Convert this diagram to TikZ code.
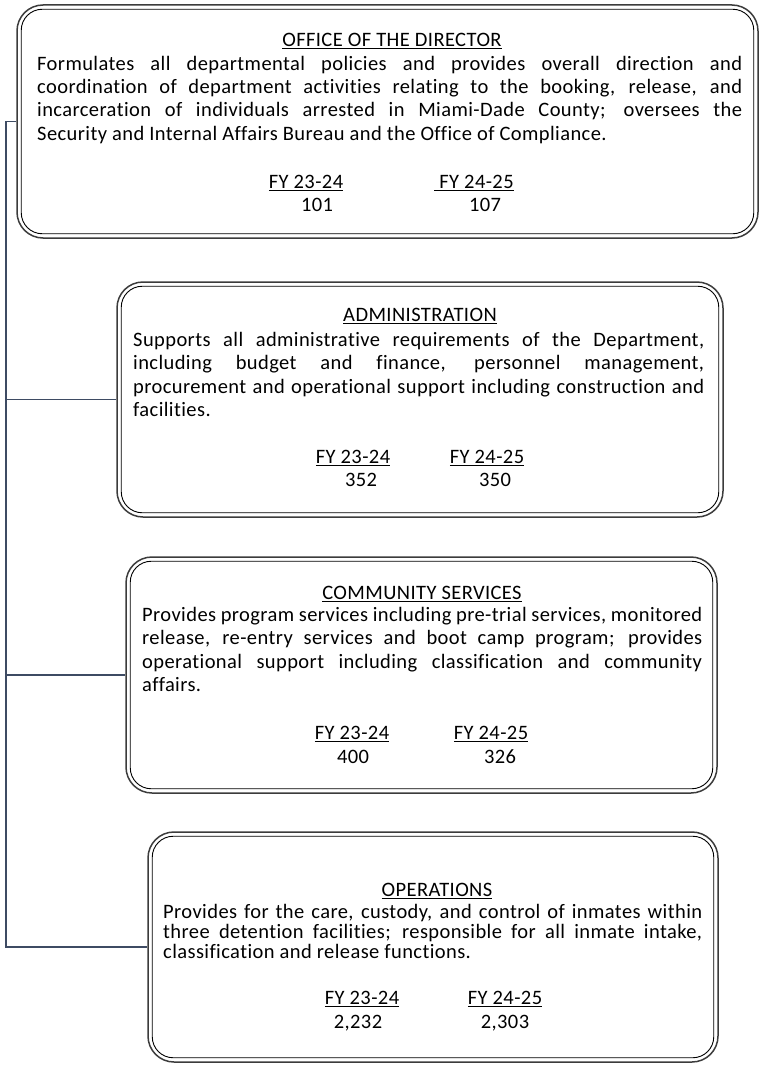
\documentclass[tikz,border=0pt]{standalone}
\usepackage{fontspec}
\setmainfont{Carlito}[LetterSpace=2, Ligatures={NoCommon,NoContextual}]
\usetikzlibrary{calc}
\definecolor{conncol}{RGB}{62,75,99}
\definecolor{outercol}{RGB}{60,60,60}
\tikzset{
  outerbox/.style={draw=outercol, line width=1.5pt, rounded corners=26pt, inner sep=0pt},
  innerbox/.style={draw=black, line width=0.9pt, rounded corners=21pt},
  conn/.style={draw=conncol, line width=1.1pt},
  txt/.style={anchor=base west, inner sep=0pt, font=\fontsize{20.5}{23}\selectfont},
  ttl/.style={anchor=base, inner sep=0pt, font=\fontsize{20.5}{23}\selectfont},
}
\newcommand{\jl}[2]{\makebox[#1pt][s]{#2}}
\begin{document}
\begin{tikzpicture}[x=1pt,y=-1pt]
\useasboundingbox[fill=white] (0,0) rectangle (759,1065);

% ---------- Office of the Director ----------
\node[outerbox, minimum width=741pt, minimum height=233pt] (dir) at (387.5,121.5) {};
\draw[innerbox] ([shift={(5,5)}]dir.north west) rectangle ([shift={(-5,-5)}]dir.south east);
\node[ttl] (dirT) at (392,47) {\underline{OFFICE OF THE DIRECTOR}};
\node[txt] (dir1) at (37,70.5) {\jl{705}{Formulates all departmental policies and provides overall direction and}};
\node[txt] (dir2) at (37,93) {\jl{705}{coordination of department activities relating to the booking, release, and}};
\node[txt] (dir3) at (37,116.5) {\jl{705}{incarceration of individuals arrested in Miami-Dade County; oversees the}};
\node[txt] (dir4) at (37,140) {Security and Internal Affairs Bureau and the Office of Compliance.};
\node[ttl] (dirF1) at (306,188.5) {\underline{FY 23-24}};
\node[ttl] (dirF2) at (474,188.5) {\underline{\ FY 24-25}};
\node[ttl] (dirN1) at (317,211.5) {101};
\node[ttl] (dirN2) at (485,211.5) {107};

% ---------- Administration ----------
\node[outerbox, minimum width=606pt, minimum height=235pt] (adm) at (420,399.5) {};
\draw[innerbox] ([shift={(5,5)}]adm.north west) rectangle ([shift={(-5,-5)}]adm.south east);
\node[ttl] (admT) at (420,321.5) {\underline{ADMINISTRATION}};
\node[txt] (adm1) at (133,346.5) {\jl{571}{Supports all administrative requirements of the Department,}};
\node[txt] (adm2) at (133,369.5) {\jl{571}{including budget and finance, personnel management,}};
\node[txt] (adm3) at (133,393.5) {\jl{571}{procurement and operational support including construction and}};
\node[txt] (adm4) at (133,416.5) {facilities.};
\node[ttl] (admF1) at (353,463.5) {\underline{FY 23-24}};
\node[ttl] (admF2) at (487,463.5) {\underline{FY 24-25}};
\node[ttl] (admN1) at (361,486.5) {352};
\node[ttl] (admN2) at (495,486.5) {350};

% ---------- Community Services ----------
\node[outerbox, minimum width=591pt, minimum height=236pt] (com) at (421.5,675) {};
\draw[innerbox] ([shift={(5,5)}]com.north west) rectangle ([shift={(-5,-5)}]com.south east);
\node[ttl] (comT) at (422,599.5) {\underline{COMMUNITY SERVICES}};
\node[txt] (com1) at (142,621.5) {\jl{560}{Provides program services including pre-trial services, monitored}};
\node[txt] (com2) at (142,644.5) {\jl{560}{release, re-entry services and boot camp program; provides}};
\node[txt] (com3) at (142,668.5) {\jl{560}{operational support including classification and community}};
\node[txt] (com4) at (142,691.5) {affairs.};
\node[ttl] (comF1) at (352,739.5) {\underline{FY 23-24}};
\node[ttl] (comF2) at (491,739.5) {\underline{FY 24-25}};
\node[ttl] (comN1) at (353,763.5) {400};
\node[ttl] (comN2) at (500,763.5) {326};

% ---------- Operations ----------
\node[outerbox, minimum width=570pt, minimum height=230pt] (ops) at (433,947) {};
\draw[innerbox] ([shift={(5,5)}]ops.north west) rectangle ([shift={(-5,-5)}]ops.south east);
\node[ttl] (opsT) at (437,896.5) {\underline{OPERATIONS}};
\node[txt] (ops1) at (163,918.5) {\jl{539}{Provides for the care, custody, and control of inmates within}};
\node[txt] (ops2) at (163,938.5) {\jl{539}{three detention facilities; responsible for all inmate intake,}};
\node[txt] (ops3) at (163,958.5) {classification and release functions.};
\node[ttl] (opsF1) at (362,1004.5) {\underline{FY 23-24}};
\node[ttl] (opsF2) at (505,1004.5) {\underline{FY 24-25}};
\node[ttl] (opsN1) at (358,1028.5) {2,232};
\node[ttl] (opsN2) at (505,1028.5) {2,303};

% ---------- Connectors ----------
\coordinate (trunk) at (6,0);
\draw[conn] (dir.west) -- (dir.west -| trunk) -- (ops.west -| trunk) -- (ops.west);
\draw[conn] (adm.west -| trunk) -- (adm.west);
\draw[conn] (com.west -| trunk) -- (com.west);
\end{tikzpicture}
\end{document}
